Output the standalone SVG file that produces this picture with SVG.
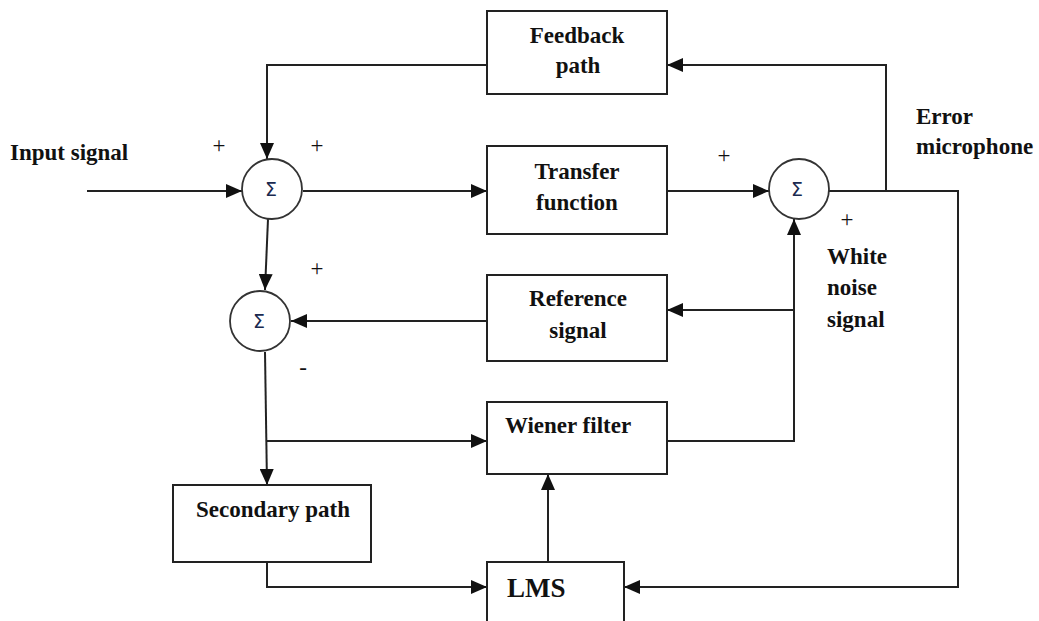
<svg xmlns="http://www.w3.org/2000/svg" width="1039" height="621" viewBox="0 0 1039 621">
<style>
.box{fill:#fff;stroke:#222;stroke-width:2}
.sum{fill:#fff;stroke:#333;stroke-width:1.8}
.ln{fill:none;stroke:#222;stroke-width:2}
.t{font-family:"Liberation Serif",serif;font-weight:bold;font-size:23px;fill:#111}
.s{font-family:"DejaVu Sans",sans-serif;font-size:19px;fill:#1a2a50}
.p{font-family:"Liberation Serif",serif;font-size:23px;fill:#111}
</style>
<defs>
<marker id="ah" markerUnits="userSpaceOnUse" markerWidth="16" markerHeight="14" refX="16" refY="7" orient="auto">
<path d="M0,0 L16,7 L0,14 z" fill="#111"/>
</marker>
</defs>
<rect width="1039" height="621" fill="#fff"/>
<g id="connectors">
<path class="ln" d="M87,191 H242" marker-end="url(#ah)"/>
<path class="ln" d="M303,191 H487" marker-end="url(#ah)"/>
<path class="ln" d="M667,191 H769" marker-end="url(#ah)"/>
<path class="ln" d="M829,191 H958 V587 H624" marker-end="url(#ah)"/>
<path class="ln" d="M886,191 V65 H667" marker-end="url(#ah)"/>
<path class="ln" d="M487,65 H267 V159" marker-end="url(#ah)"/>
<path class="ln" d="M268,219 L265,290" marker-end="url(#ah)"/>
<path class="ln" d="M794,310 H667" marker-end="url(#ah)"/>
<path class="ln" d="M667,441 H794 V219" marker-end="url(#ah)"/>
<path class="ln" d="M487,321 H291" marker-end="url(#ah)"/>
<path class="ln" d="M265,352 L267,485" marker-end="url(#ah)"/>
<path class="ln" d="M267,441 H487" marker-end="url(#ah)"/>
<path class="ln" d="M267,562 V587 H487" marker-end="url(#ah)"/>
<path class="ln" d="M548,562 V474" marker-end="url(#ah)"/>
</g>
<g id="feedback">
<rect class="box" x="487" y="11" width="180" height="83"/>
<text class="t" x="577" y="43" text-anchor="middle">Feedback</text>
<text class="t" x="578" y="73" text-anchor="middle">path</text>
</g>
<g id="transfer">
<rect class="box" x="487" y="146" width="180" height="88"/>
<text class="t" x="577" y="179" text-anchor="middle">Transfer</text>
<text class="t" x="577" y="210" text-anchor="middle">function</text>
</g>
<g id="reference">
<rect class="box" x="487" y="275" width="180" height="86"/>
<text class="t" x="578" y="306" text-anchor="middle">Reference</text>
<text class="t" x="578" y="338" text-anchor="middle">signal</text>
</g>
<g id="wiener">
<rect class="box" x="487" y="402" width="180" height="72"/>
<text class="t" x="568" y="433" text-anchor="middle">Wiener filter</text>
</g>
<g id="secondary">
<rect class="box" x="173" y="485" width="198" height="77"/>
<text class="t" x="273" y="517" text-anchor="middle">Secondary path</text>
</g>
<g id="lms">
<rect class="box" x="487" y="562" width="137" height="64"/>
<text class="t" x="507" y="597" style="font-size:27px">LMS</text>
</g>
<g id="sum1">
<circle class="sum" cx="272" cy="189" r="30"/>
<text class="s" x="271" y="196" text-anchor="middle">Σ</text>
</g>
<g id="sum2">
<circle class="sum" cx="799" cy="189" r="30"/>
<text class="s" x="797" y="196" text-anchor="middle">Σ</text>
</g>
<g id="sum3">
<circle class="sum" cx="260" cy="321" r="30"/>
<text class="s" x="259" y="328" text-anchor="middle">Σ</text>
</g>
<g id="labels">
<text class="t" x="10" y="160">Input signal</text>
<text class="t" x="916" y="124">Error</text>
<text class="t" x="916" y="154">microphone</text>
<text class="t" x="827" y="264">White</text>
<text class="t" x="827" y="295">noise</text>
<text class="t" x="827" y="327">signal</text>
<text class="p" x="219" y="153" text-anchor="middle">+</text>
<text class="p" x="317" y="153" text-anchor="middle">+</text>
<text class="p" x="317" y="276" text-anchor="middle">+</text>
<text class="p" x="724" y="163" text-anchor="middle">+</text>
<text class="p" x="847" y="227" text-anchor="middle">+</text>
<text class="p" x="303" y="375" text-anchor="middle">-</text>
</g>
</svg>
